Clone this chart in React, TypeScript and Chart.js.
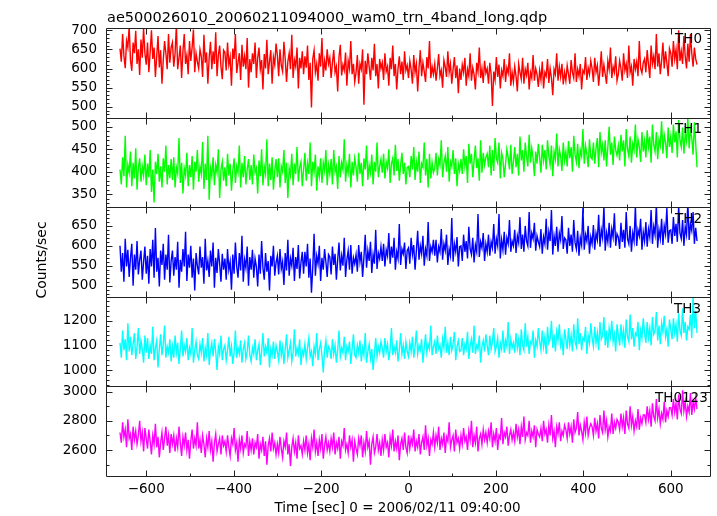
import React, { useEffect, useRef } from 'react';
import { Chart, registerables } from 'chart.js';

Chart.register(...registerables);

const TITLE = 'ae500026010_20060211094000_wam0_trn_4band_long.qdp';
const X_TITLE = 'Time [sec] 0 = 2006/02/11 09:40:00';
const Y_TITLE = 'Counts/sec';
const BAND_LABELS = ['TH0', 'TH1', 'TH2', 'TH3', 'TH0123'];

// time bins (sec from 2006/02/11 09:40:00)
const TIME_START = -660;
const TIME_STEP = 3;

const TH0 = [
  652, 618, 690, 633, 601, 672, 655, 710, 622, 594, 668, 640, 699, 612, 650, 583, 676, 628, 705, 640,
  610, 668, 590, 642, 700, 625, 655, 578, 632, 685, 603, 648, 560, 622, 672, 640, 598, 690, 615, 655,
  668, 605, 640, 712, 598, 628, 660, 575, 645, 690, 612, 635, 585, 672, 620, 655, 702, 590, 640, 618,
  600, 650, 632, 578, 688, 615, 642, 560, 628, 670, 598, 645, 612, 695, 580, 635, 660, 605, 572, 648,
  642, 595, 668, 610, 630, 555, 652, 625, 690, 588, 615, 640, 570, 662, 605, 632, 598, 680, 550, 625,
  590, 640, 612, 668, 575, 628, 655, 598, 622, 545, 638, 600, 675, 585, 618, 648, 560, 630, 610, 665,
  635, 580, 650, 608, 592, 670, 625, 565, 618, 640, 598, 688, 575, 622, 605, 655, 548, 628, 600, 645,
  585, 632, 602, 660, 570, 615, 498, 625, 648, 590, 612, 568, 640, 605, 680, 578, 620, 595, 650, 612,
  628, 575, 615, 648, 590, 605, 540, 630, 662, 582, 610, 595, 642, 555, 620, 600, 672, 585, 612, 565,
  590, 635, 560, 612, 598, 650, 505, 620, 585, 640, 605, 570, 628, 595, 665, 580, 612, 548, 625, 600,
  615, 570, 640, 592, 605, 555, 628, 598, 660, 580, 612, 545, 600, 632, 585, 618, 570, 645, 595, 608,
  575, 620, 598, 560, 635, 590, 612, 540, 602, 648, 580, 615, 592, 565, 630, 600, 672, 575, 605, 585,
  612, 568, 600, 638, 580, 595, 550, 622, 605, 578, 645, 590, 612, 560, 598, 630, 575, 608, 535, 600,
  570, 610, 590, 628, 555, 598, 580, 640, 568, 602, 585, 545, 615, 592, 655, 575, 600, 562, 620, 588,
  600, 560, 615, 585, 502, 592, 570, 630, 578, 610, 548, 595, 580, 625, 565, 602, 588, 640, 555, 590,
  565, 605, 580, 540, 612, 590, 572, 628, 560, 598, 582, 615, 545, 590, 575, 635, 568, 600, 585, 552,
  595, 570, 618, 548, 590, 580, 625, 562, 600, 575, 530, 598, 585, 640, 568, 605, 578, 612, 558, 590,
  568, 608, 585, 560, 622, 590, 575, 640, 565, 598, 580, 612, 545, 595, 588, 630, 570, 602, 585, 620,
  600, 565, 628, 590, 608, 555, 595, 645, 578, 610, 585, 560, 620, 598, 655, 575, 605, 590, 632, 568,
  585, 620, 600, 568, 640, 595, 612, 575, 660, 590, 605, 555, 625, 598, 618, 580, 672, 600, 588, 615,
  625, 590, 648, 610, 575, 660, 612, 632, 598, 690, 605, 640, 585, 620, 668, 600, 645, 615, 580, 652,
  640, 605, 672, 625, 650, 598, 700, 620, 645, 612, 685, 632, 600, 665, 618, 690, 640, 605, 655, 625,
  610,
];

const TH1 = [
  405, 372, 432, 390, 480, 365, 415, 398, 445, 368, 420, 385, 452, 360, 408, 430, 378, 412, 392, 438,
  370, 418, 388, 448, 355, 405, 332, 422, 395, 440, 378, 412, 365, 430, 400, 458, 372, 415, 386, 428,
  382, 432, 365, 410, 396, 475, 375, 420, 352, 408, 392, 442, 368, 415, 388, 435, 360, 422, 400, 448,
  378, 412, 395, 466, 362, 418, 382, 480, 338, 408, 390, 432, 370, 415, 398, 450, 342, 405, 422, 380,
  410, 368, 440, 392, 418, 358, 402, 430, 375, 412, 398, 458, 365, 420, 388, 435, 372, 405, 428, 382,
  415, 372, 438, 398, 408, 352, 425, 390, 450, 370, 412, 395, 472, 368, 418, 382, 432, 360, 402, 428,
  388, 430, 365, 412, 400, 448, 375, 420, 342, 408, 392, 440, 370, 418, 395, 455, 378, 410, 422, 368,
  405, 442, 380, 418, 395, 465, 368, 422, 400, 438, 358, 412, 390, 430, 375, 420, 402, 448, 370, 415,
  395, 428, 372, 448, 400, 412, 362, 435, 388, 420, 405, 472, 378, 415, 398, 440, 365, 422, 392, 430,
  410, 378, 442, 395, 420, 368, 430, 405, 458, 382, 415, 398, 438, 372, 422, 400, 465, 388, 412, 428,
  398, 440, 385, 422, 408, 450, 375, 418, 430, 392, 460, 402, 428, 380, 415, 442, 395, 420, 372, 410,
  412, 388, 435, 405, 455, 382, 422, 400, 445, 375, 418, 410, 465, 392, 428, 365, 440, 385, 420, 398,
  408, 442, 392, 428, 415, 470, 388, 420, 435, 400, 455, 378, 422, 412, 448, 395, 430, 368, 418, 402,
  428, 395, 450, 412, 435, 375, 462, 418, 440, 388, 425, 458, 408, 430, 380, 470, 398, 442, 415, 432,
  440, 410, 458, 392, 448, 402, 475, 430, 420, 465, 385, 442, 428, 388, 418, 450, 432, 405, 460, 395,
  422, 455, 410, 440, 392, 478, 425, 448, 400, 465, 435, 412, 482, 420, 452, 430, 390, 445, 418, 462,
  432, 398, 460, 425, 448, 405, 470, 435, 415, 458, 390, 445, 428, 485, 412, 450, 435, 402, 465, 425,
  445, 412, 468, 430, 455, 400, 480, 438, 422, 462, 408, 448, 435, 495, 418, 458, 440, 410, 472, 432,
  428, 465, 418, 452, 475, 410, 488, 442, 460, 425, 470, 412, 455, 500, 438, 465, 415, 478, 448, 436,
  458, 425, 482, 445, 470, 412, 495, 450, 435, 478, 420, 462, 448, 505, 432, 472, 455, 422, 488, 445,
  468, 432, 492, 455, 478, 420, 505, 460, 445, 488, 428, 472, 458, 512, 440, 482, 465, 430, 498, 455,
  478, 442, 505, 465, 490, 432, 515, 470, 455, 498, 440, 485, 468, 520, 452, 495, 475, 438, 510, 462,
  410,
];

const TH2 = [
  600, 535, 582, 510, 618, 548, 590, 522, 570, 605, 500, 578, 540, 612, 528, 565, 588, 515, 560, 598,
  530, 575, 505, 592, 548, 615, 520, 645, 535, 570, 498, 588, 552, 605, 515, 578, 540, 628, 508, 562,
  588, 525, 572, 540, 610, 495, 565, 535, 592, 548, 635, 512, 578, 545, 600, 520, 568, 488, 582, 550,
  528, 598, 545, 572, 505, 618, 538, 562, 522, 588, 548, 608, 495, 570, 532, 592, 555, 510, 580, 540,
  568, 515, 592, 540, 560, 490, 578, 530, 608, 548, 520, 582, 538, 625, 510, 565, 545, 598, 500, 572,
  540, 590, 520, 568, 548, 498, 578, 530, 612, 545, 515, 582, 535, 562, 488, 575, 548, 600, 525, 558,
  575, 528, 592, 542, 560, 502, 582, 538, 615, 525, 568, 550, 595, 512, 572, 542, 602, 518, 558, 585,
  530, 585, 548, 605, 520, 568, 482, 545, 630, 525, 575, 555, 600, 512, 570, 540, 592, 560, 522, 578,
  572, 528, 598, 552, 580, 515, 565, 608, 538, 575, 550, 620, 522, 565, 588, 540, 602, 530, 570, 555,
  578, 535, 602, 560, 585, 522, 570, 628, 545, 588, 562, 610, 532, 578, 555, 640, 542, 582, 568, 598,
  562, 605, 548, 590, 575, 632, 555, 598, 570, 620, 540, 585, 568, 655, 552, 592, 580, 608, 542, 588,
  595, 555, 620, 578, 602, 540, 588, 638, 565, 600, 580, 625, 550, 592, 575, 660, 562, 598, 585, 615,
  575, 615, 558, 598, 585, 642, 565, 605, 588, 628, 552, 592, 575, 670, 560, 605, 585, 622, 548, 598,
  600, 562, 628, 585, 612, 568, 648, 592, 578, 620, 558, 602, 585, 680, 572, 610, 595, 632, 562, 605,
  585, 628, 575, 610, 595, 655, 580, 618, 600, 680, 568, 615, 590, 635, 578, 620, 605, 665, 585, 612,
  600, 640, 582, 625, 608, 672, 592, 628, 585, 650, 612, 600, 685, 595, 632, 618, 658, 588, 625, 610,
  598, 642, 580, 622, 605, 668, 590, 635, 612, 690, 578, 625, 600, 648, 585, 632, 615, 675, 592, 620,
  615, 580, 645, 600, 628, 585, 665, 608, 592, 638, 575, 620, 602, 695, 590, 628, 612, 650, 580, 622,
  605, 652, 590, 632, 615, 678, 598, 640, 620, 700, 588, 632, 610, 658, 595, 642, 622, 682, 600, 630,
  622, 592, 658, 610, 640, 595, 685, 618, 605, 650, 585, 632, 612, 700, 600, 640, 625, 668, 590, 635,
  612, 660, 598, 642, 622, 690, 605, 648, 628, 705, 595, 640, 618, 668, 602, 650, 630, 695, 608, 638,
  640, 605, 672, 625, 655, 610, 700, 632, 618, 665, 600, 648, 628, 710, 615, 655, 638, 685, 605, 645,
  612,
];

const TH3 = [
  1110, 1050, 1160, 1080, 1125, 1040, 1190, 1075, 1135, 1060, 1105, 1150, 1045, 1095, 1170, 1065, 1120, 1085, 1030, 1140,
  1070, 1130, 1045, 1100, 1065, 1175, 1040, 1090, 1120, 1010, 1085, 1145, 1060, 1105, 1180, 1050, 1095, 1070, 1125, 1035,
  1095, 1050, 1140, 1070, 1110, 1025, 1085, 1160, 1055, 1100, 1075, 1130, 1040, 1090, 1065, 1170, 1030, 1080, 1115, 1060,
  1045, 1105, 1070, 1130, 1035, 1090, 1060, 1150, 1020, 1080, 1110, 1055, 1125, 1075, 1000, 1095, 1065, 1140, 1040, 1085,
  1100, 1040, 1080, 1135, 1055, 1095, 1025, 1070, 1160, 1050, 1090, 1065, 1120, 1030, 1085, 1110, 1045, 1075, 1140, 1060,
  1035, 1090, 1065, 1125, 1040, 1080, 1105, 1020, 1075, 1150, 1055, 1095, 1070, 1130, 1010, 1085, 1060, 1115, 1045, 1100,
  1075, 1040, 1120, 1060, 1095, 1025, 1085, 1145, 1050, 1080, 1110, 1035, 1070, 1165, 1055, 1090, 1065, 1125, 1020, 1080,
  1060, 1105, 1045, 1090, 1130, 1055, 1075, 1015, 1095, 1065, 1150, 1040, 1085, 1110, 1060, 990, 1080, 1120, 1050, 1095,
  1085, 1045, 1125, 1065, 1100, 1030, 1080, 1160, 1055, 1090, 1070, 1135, 1040, 1095, 1075, 1115, 1025, 1085, 1145, 1060,
  1050, 1100, 1070, 1120, 1035, 1090, 1060, 1150, 1030, 1075, 1105, 1045, 1085, 1000, 1065, 1130, 1055, 1095, 1070, 1115,
  1090, 1050, 1130, 1075, 1105, 1040, 1085, 1170, 1060, 1095, 1070, 1120, 1035, 1080, 1150, 1065, 1100, 1045, 1115, 1075,
  1055, 1110, 1075, 1135, 1050, 1095, 1160, 1065, 1100, 1080, 1125, 1030, 1090, 1145, 1070, 1105, 1085, 1180, 1060, 1095,
  1115, 1065, 1140, 1085, 1100, 1050, 1125, 1090, 1175, 1070, 1110, 1060, 1135, 1080, 1105, 1155, 1040, 1095, 1120, 1075,
  1080, 1130, 1060, 1105, 1085, 1155, 1045, 1100, 1125, 1070, 1180, 1065, 1100, 1085, 1140, 1030, 1095, 1120, 1075, 1145,
  1100, 1060, 1140, 1085, 1115, 1170, 1075, 1095, 1130, 1050, 1110, 1085, 1160, 1070, 1120, 1095, 1195, 1065, 1125, 1090,
  1110, 1070, 1150, 1090, 1125, 1060, 1165, 1100, 1080, 1190, 1095, 1135, 1065, 1115, 1105, 1160, 1050, 1120, 1095, 1170,
  1115, 1080, 1160, 1095, 1135, 1065, 1175, 1110, 1125, 1200, 1090, 1145, 1075, 1155, 1120, 1185, 1100, 1130, 1060, 1165,
  1125, 1085, 1170, 1100, 1140, 1075, 1185, 1115, 1095, 1210, 1105, 1150, 1080, 1130, 1120, 1175, 1065, 1140, 1110, 1190,
  1130, 1095, 1175, 1110, 1150, 1080, 1195, 1125, 1140, 1215, 1100, 1160, 1090, 1170, 1135, 1200, 1115, 1145, 1075, 1185,
  1140, 1100, 1185, 1120, 1160, 1090, 1205, 1135, 1115, 1225, 1125, 1170, 1095, 1150, 1140, 1195, 1080, 1160, 1130, 1210,
  1150, 1110, 1195, 1130, 1170, 1100, 1215, 1145, 1160, 1235, 1120, 1180, 1105, 1190, 1155, 1220, 1135, 1165, 1095, 1205,
  1165, 1125, 1210, 1150, 1185, 1115, 1230, 1160, 1140, 1250, 1150, 1195, 1120, 1175, 1165, 1225, 1130, 1300, 1170, 1240,
  1150,
];

const TH0123 = [
  2720, 2650, 2790, 2690, 2740, 2620, 2810, 2680, 2710, 2600, 2760, 2670, 2730, 2640, 2700, 2800, 2660, 2720, 2590, 2750,
  2680, 2610, 2740, 2660, 2570, 2700, 2640, 2780, 2620, 2690, 2550, 2650, 2720, 2600, 2680, 2760, 2630, 2700, 2580, 2710,
  2640, 2700, 2590, 2680, 2620, 2760, 2650, 2560, 2690, 2630, 2720, 2600, 2670, 2540, 2660, 2740, 2610, 2680, 2630, 2790,
  2610, 2670, 2580, 2700, 2640, 2550, 2680, 2620, 2730, 2600, 2660, 2520, 2650, 2710, 2590, 2640, 2680, 2570, 2700, 2630,
  2660, 2590, 2700, 2620, 2560, 2680, 2640, 2750, 2600, 2650, 2520, 2670, 2610, 2700, 2580, 2640, 2620, 2730, 2560, 2660,
  2600, 2680, 2570, 2650, 2620, 2710, 2540, 2640, 2600, 2690, 2560, 2660, 2500, 2630, 2680, 2590, 2720, 2610, 2650, 2570,
  2640, 2580, 2690, 2610, 2550, 2660, 2620, 2720, 2570, 2640, 2490, 2620, 2680, 2590, 2650, 2540, 2700, 2610, 2630, 2570,
  2660, 2600, 2700, 2580, 2640, 2530, 2680, 2620, 2740, 2590, 2650, 2560, 2670, 2610, 2710, 2540, 2630, 2690, 2600, 2650,
  2590, 2680, 2620, 2720, 2570, 2650, 2610, 2690, 2540, 2660, 2630, 2750, 2600, 2640, 2580, 2700, 2620, 2670, 2520, 2660,
  2610, 2570, 2680, 2630, 2700, 2550, 2650, 2590, 2730, 2620, 2660, 2500, 2640, 2690, 2580, 2620, 2710, 2600, 2650, 2560,
  2670, 2600, 2710, 2620, 2650, 2550, 2690, 2630, 2740, 2590, 2660, 2610, 2700, 2530, 2640, 2680, 2600, 2720, 2620, 2580,
  2700, 2610, 2680, 2640, 2740, 2590, 2660, 2620, 2710, 2570, 2650, 2690, 2600, 2770, 2630, 2680, 2560, 2670, 2640, 2720,
  2620, 2700, 2650, 2760, 2600, 2680, 2640, 2720, 2580, 2690, 2660, 2790, 2620, 2670, 2700, 2590, 2740, 2650, 2680, 2610,
  2700, 2640, 2750, 2660, 2690, 2600, 2730, 2670, 2800, 2620, 2700, 2650, 2760, 2590, 2680, 2710, 2640, 2740, 2670, 2720,
  2650, 2730, 2680, 2790, 2620, 2710, 2660, 2750, 2600, 2700, 2680, 2820, 2640, 2720, 2690, 2760, 2630, 2700, 2740, 2670,
  2720, 2660, 2780, 2690, 2740, 2640, 2760, 2690, 2830, 2670, 2720, 2700, 2800, 2650, 2730, 2690, 2770, 2620, 2740, 2710,
  2690, 2750, 2660, 2800, 2710, 2740, 2650, 2770, 2700, 2840, 2680, 2730, 2620, 2760, 2710, 2790, 2660, 2730, 2700, 2770,
  2740, 2680, 2790, 2710, 2760, 2650, 2810, 2720, 2750, 2860, 2700, 2770, 2730, 2670, 2790, 2720, 2830, 2700, 2750, 2780,
  2760, 2700, 2820, 2730, 2780, 2680, 2840, 2750, 2720, 2870, 2740, 2800, 2690, 2760, 2730, 2850, 2710, 2790, 2750, 2810,
  2790, 2740, 2850, 2760, 2820, 2710, 2870, 2780, 2750, 2900, 2770, 2830, 2730, 2800, 2760, 2880, 2740, 2820, 2780, 2840,
  2840, 2790, 2900, 2810, 2870, 2760, 2920, 2830, 2800, 2950, 2820, 2880, 2780, 2850, 2810, 2930, 2790, 2870, 2830, 2890,
  2890, 2840, 2950, 2860, 2920, 2810, 2980, 2880, 2850, 3010, 2870, 2930, 2830, 2900, 2860, 2990, 2840, 2930, 2880, 2960,
  2880,
];

const SERIES_VALUES = [TH0, TH1, TH2, TH3, TH0123];
const SERIES_COLORS = ['#ff0000', '#00ff00', '#0000ff', '#00ffff', '#ff00ff'];

const X_TICKS = [-600, -400, -200, 0, 200, 400, 600];
const Y_TICKS = [
  [500, 550, 600, 650, 700],
  [350, 400, 450, 500],
  [500, 550, 600, 650],
  [1000, 1100, 1200],
  [2600, 2800, 3000],
];
const Y_MIN = [471.5, 321.4, 472, 933.5, 2422];
const Y_MAX = [706, 520.2, 697, 1297, 3036];
const Y_MAJOR = [50, 50, 50, 100, 200];
const Y_MINOR = [10, 10, 10, 20, 100];
const X_MIN = -692;
const X_MAX = 692;

const FONT = 'DejaVu Sans';
const LABEL_POS = [
  [675, 43],
  [675, 133],
  [675, 223],
  [674, 313],
  [655, 402],
];

const fmt = (v: number) => (v < 0 ? '\u2212' + Math.abs(v) : String(v));

const clipPlugin = {
  id: 'panelClip',
  beforeDatasetDraw(chart: any, args: any) {
    const ys = chart.scales[args.meta.yAxisID];
    const ca = chart.chartArea;
    const ctx = chart.ctx;
    ctx.save();
    ctx.beginPath();
    ctx.rect(ca.left, ys.top, ca.right - ca.left, ys.bottom - ys.top);
    ctx.clip();
  },
  afterDatasetDraw(chart: any) {
    chart.ctx.restore();
  },
};

const framePlugin = {
  id: 'qdpFrame',
  afterDatasetsDraw(chart: any) {
    const ctx = chart.ctx;
    const ca = chart.chartArea;
    const xs = chart.scales.x;
    const L = Math.round(ca.left) + 0.5;
    const R = Math.round(ca.right) - 0.5;
    ctx.save();
    ctx.strokeStyle = '#222';
    ctx.lineWidth = 1;
    for (let p = 0; p < 5; p++) {
      const ys = chart.scales['y' + p];
      const T = Math.round(ys.top) + 0.5;
      const B = Math.round(ys.bottom) + 0.5;
      ctx.beginPath();
      ctx.rect(L, T, R - L, B - T);
      for (let v = -600; v <= 600; v += 100) {
        const px = Math.round(xs.getPixelForValue(v)) + 0.5;
        const len = v % 200 === 0 ? 6 : 3;
        ctx.moveTo(px, B);
        ctx.lineTo(px, B - len);
        ctx.moveTo(px, T);
        ctx.lineTo(px, T + len);
      }
      const mn = Y_MINOR[p];
      for (let v = Math.ceil(Y_MIN[p] / mn) * mn; v <= Y_MAX[p]; v += mn) {
        const py = Math.round(ys.getPixelForValue(v)) + 0.5;
        const len = v % Y_MAJOR[p] === 0 ? 6 : 3;
        ctx.moveTo(L, py);
        ctx.lineTo(L + len, py);
        ctx.moveTo(R, py);
        ctx.lineTo(R - len, py);
      }
      ctx.stroke();
    }
    ctx.fillStyle = '#000';
    ctx.textBaseline = 'alphabetic';
    ctx.textAlign = 'left';
    ctx.font = `14.5px "${FONT}"`;
    ctx.fillText(TITLE, 107, 21.5);
    ctx.font = `13.5px "${FONT}"`;
    for (let p = 0; p < 5; p++) {
      ctx.fillText(BAND_LABELS[p], LABEL_POS[p][0], LABEL_POS[p][1]);
    }
    ctx.textAlign = 'center';
    ctx.fillText(X_TITLE, 397.5, 511.5);
    ctx.save();
    ctx.translate(46, 260);
    ctx.rotate(-Math.PI / 2);
    ctx.font = `14px "${FONT}"`;
    ctx.fillText(Y_TITLE, 0, 0);
    ctx.restore();
    ctx.restore();
  },
};

export default function App() {
  const ref = useRef<HTMLCanvasElement | null>(null);
  useEffect(() => {
    if (!ref.current) return;
    const datasets = SERIES_VALUES.map((vals, i) => ({
      label: BAND_LABELS[i],
      data: vals.map((y, k) => ({ x: TIME_START + k * TIME_STEP, y })),
      borderColor: SERIES_COLORS[i],
      backgroundColor: SERIES_COLORS[i],
      borderWidth: 1.4,
      pointRadius: 0,
      tension: 0,
      fill: false,
      yAxisID: 'y' + i,
    }));
    const scales: any = {
      x: {
        type: 'linear',
        position: 'bottom',
        min: X_MIN,
        max: X_MAX,
        grid: { display: false, drawTicks: false },
        border: { display: false },
        afterBuildTicks: (s: any) => {
          s.ticks = X_TICKS.map((v) => ({ value: v }));
        },
        ticks: {
          autoSkip: false,
          maxRotation: 0,
          padding: 5,
          color: '#000',
          font: { family: FONT, size: 13.5 },
          callback: (v: any) => fmt(v),
        },
        afterFit: (s: any) => {
          s.height = 40;
        },
      },
    };
    for (let i = 0; i < 5; i++) {
      scales['y' + i] = {
        type: 'linear',
        position: 'left',
        stack: 'panels',
        stackWeight: 1,
        weight: 5 - i,
        min: Y_MIN[i],
        max: Y_MAX[i],
        grid: { display: false, drawTicks: false },
        border: { display: false },
        afterBuildTicks: (s: any) => {
          s.ticks = Y_TICKS[i].map((v) => ({ value: v }));
        },
        ticks: {
          autoSkip: false,
          padding: 9,
          color: '#000',
          font: { family: FONT, size: 13.5 },
          callback: (v: any) => String(v),
        },
        afterFit: (s: any) => {
          s.width = 106;
        },
      };
    }
    const chart = new Chart(ref.current, {
      type: 'line',
      data: { datasets },
      options: {
        animation: false,
        responsive: false,
        devicePixelRatio: 1,
        layout: { padding: { left: 0, right: 6, top: 28, bottom: 0 } },
        plugins: { legend: { display: false }, tooltip: { enabled: false }, title: { display: false } },
        scales,
      } as any,
      plugins: [clipPlugin, framePlugin],
    });
    return () => chart.destroy();
  }, []);
  return (
    <div style={{ position: 'absolute', left: 0, top: 0, width: 717, height: 516, background: '#fff' }}>
      <canvas ref={ref} width={717} height={516} style={{ display: 'block' }} />
    </div>
  );
}
